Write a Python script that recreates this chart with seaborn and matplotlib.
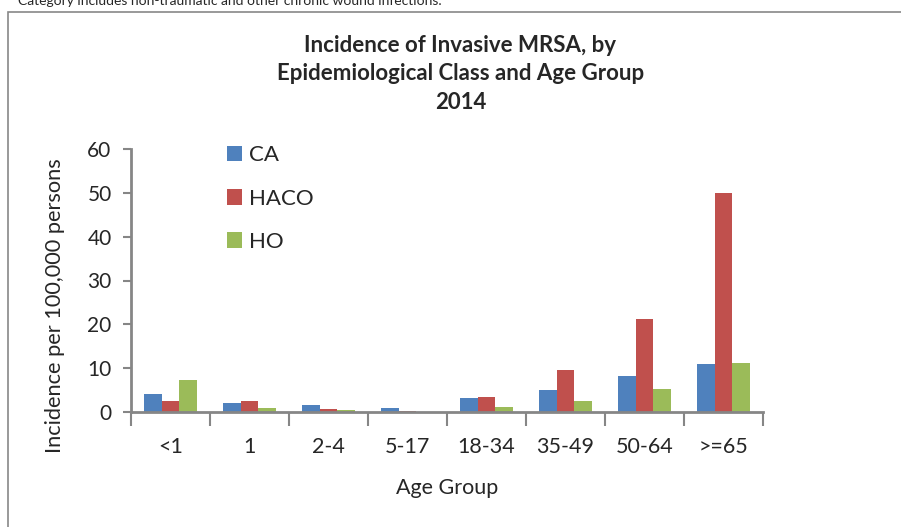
import pandas as pd
import matplotlib.pyplot as plt
import numpy as np
import seaborn as sns
from matplotlib.patches import Rectangle

# data
age_groups = ["<1", "1", "2-4", "5-17", "18-34", "35-49", "50-64", ">=65"]
ca = [4.1, 2.0, 1.7, 0.9, 3.1, 5.0, 8.1, 11.0]
haco = [2.5, 2.5, 0.6, 0.2, 3.4, 9.6, 21.2, 50.0]
ho = [7.3, 0.8, 0.4, 0.1, 1.2, 2.5, 5.2, 11.1]
classes = ["CA", "HACO", "HO"]

df = pd.DataFrame({"Age Group": age_groups * 3,
                   "Class": np.repeat(classes, len(age_groups)),
                   "Incidence": ca + haco + ho})

sns.set_style("white")
plt.rcParams['font.family'] = ['Lato', 'DejaVu Sans']

fig = plt.figure(figsize=(9.01, 5.27), dpi=100)
ax = fig.add_axes([131/901, 1-412/527, (763-131)/901, (412-149)/527])

sns.barplot(data=df, x="Age Group", y="Incidence", hue="Class", ax=ax,
            palette=["#4F81BD", "#C0504D", "#9BBB59"], width=0.66, gap=0,
            edgecolor="none", saturation=1)

ax.set_ylim(0, 60)
ax.set_xlim(-0.5, 7.5)
ax.set_yticks(range(0, 61, 10))
ax.tick_params(axis='y', labelsize=15, length=6, width=1.5, color='#868686', left=True,
               direction='out', pad=8)
ax.tick_params(axis='x', which='major', labelsize=15.5, length=0, pad=18)
ax.set_xticks(np.arange(-0.5, 8, 1), minor=True)
ax.tick_params(axis='x', which='minor', length=10, width=1.5, color='#868686', bottom=True, direction='out')

for s in ['top', 'right']:
    ax.spines[s].set_visible(False)
for s in ['left', 'bottom']:
    ax.spines[s].set_color('#868686')
    ax.spines[s].set_linewidth(2)

ax.set_xlabel("Age Group", fontsize=15.5, labelpad=15)
ax.set_ylabel("Incidence per 100,000 persons", fontsize=15.7)
ax.yaxis.set_label_coords(-0.104, 0.405)

leg = ax.legend(loc='upper left', bbox_to_anchor=(0.12, 1.09), frameon=False,
                fontsize=16, handlelength=0.7, handleheight=0.7, labelspacing=1.05,
                handletextpad=0.3)

fig.text(0.511, 1-74/527, "Incidence of Invasive MRSA, by\nEpidemiological Class and Age Group\n2014",
         ha='center', va='center', fontsize=16, fontweight='bold', linespacing=1.45)

fig.text(0.02, 1-5/527, "Category includes non-traumatic and other chronic wound infections.",
         ha='left', va='baseline', fontsize=10)

fig.patches.append(Rectangle((8/901, -0.05), 1.0, 1-12/527+0.05, transform=fig.transFigure,
                             fill=False, edgecolor='#888888', linewidth=1.2, clip_on=False))

fig.savefig("out.png", dpi=100)
